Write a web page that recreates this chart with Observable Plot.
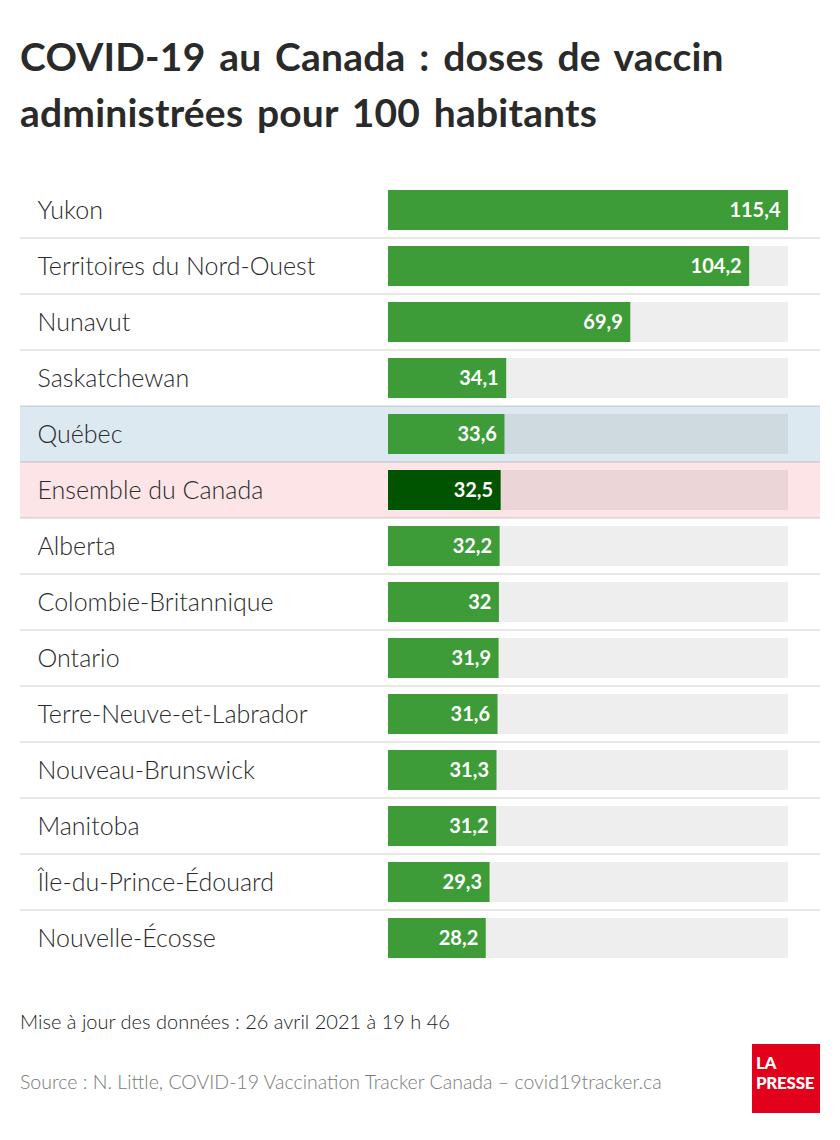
<!DOCTYPE html>
<html>
<head>
<meta charset="utf-8">
<script src="https://cdn.jsdelivr.net/npm/d3@7"></script>
<script src="https://cdn.jsdelivr.net/npm/@observablehq/plot@0.6"></script>
<style>
  body { margin: 0; background: #fff; font-family: Lato, "Open Sans", sans-serif; }
  #wrap { position: relative; width: 840px; height: 1140px; }
  #title { position: absolute; left: 20px; top: 28px; font-size: 39px; line-height: 56px; font-weight: 700; color: #2a2a2a; word-spacing: 4px; letter-spacing: 0.2px; white-space: nowrap; }
  #chart { position: absolute; left: 0; top: 182px; }
  #update { position: absolute; left: 20px; top: 1009px; font-size: 20px; font-weight: 300; color: #222; }
  #source { position: absolute; left: 20px; top: 1070px; font-size: 19.5px; font-weight: 300; color: #7a7a7a; }
  #logo { position: absolute; left: 752px; top: 1044px; width: 68px; height: 69px; background: #e2001a; color: #fff; font-weight: 900; font-size: 17px; line-height: 17px; letter-spacing: -0.3px; }
  #logo div { position: absolute; left: 4px; }
</style>
</head>
<body>
<div id="wrap">
  <div id="title">COVID-19 au Canada : doses de vaccin<br>administrées pour 100 habitants</div>
  <div id="chart"></div>
  <div id="update">Mise à jour des données : 26 avril 2021 à 19 h 46</div>
  <div id="source">Source : N. Little, COVID-19 Vaccination Tracker Canada – covid19tracker.ca</div>
  <div id="logo"><div style="top:10px">LA</div><div style="top:30px">PRESSE</div></div>
</div>
<script>
const regions = ["Yukon", "Territoires du Nord-Ouest", "Nunavut", "Saskatchewan", "Québec", "Ensemble du Canada", "Alberta", "Colombie-Britannique", "Ontario", "Terre-Neuve-et-Labrador", "Nouveau-Brunswick", "Manitoba", "Île-du-Prince-Édouard", "Nouvelle-Écosse"];
const doses = [115.4, 104.2, 69.9, 34.1, 33.6, 32.5, 32.2, 32, 31.9, 31.6, 31.3, 31.2, 29.3, 28.2];
const highlights = { "Québec": "#dde9f1", "Ensemble du Canada": "#fde5e7" };
const barColors = { "Ensemble du Canada": "#005400" };
const defaultBar = "#3d9c37";

const data = regions.map((name, i) => ({ name, value: doses[i] }));
const maxVal = d3.max(doses);
const fmt = v => String(v).replace(".", ",");

const chart = Plot.plot({
  width: 840,
  height: 784,
  marginLeft: 20,
  marginRight: 20,
  marginTop: 0,
  marginBottom: 0,
  x: { domain: [0, maxVal], range: [388, 788], axis: null },
  y: { domain: regions, padding: 0, axis: null },
  marks: [
    Plot.cell(data.filter(d => highlights[d.name]), { y: "name", fill: d => highlights[d.name] }),
    Plot.cell(data.slice(1), { y: "name", fill: "#000", fillOpacity: 0.09, insetTop: -1, insetBottom: 55 }),
    Plot.barX(data, { y: "name", x1: 0, x2: () => maxVal, fill: "#000", fillOpacity: 0.067, insetTop: 8, insetBottom: 8 }),
    Plot.barX(data, { y: "name", x: "value", fill: d => barColors[d.name] || defaultBar, insetTop: 8, insetBottom: 8 }),
    Plot.text(data, { y: "name", text: "name", frameAnchor: "left", dx: 17, textAnchor: "start", fill: "#2a2a2a", fontSize: 25, fontWeight: 300, fontFamily: "Lato" }),
    Plot.text(data, { y: "name", x: "value", text: d => fmt(d.value), textAnchor: "end", dx: -8, fill: "#fff", fontSize: 20, fontWeight: 700, fontFamily: "Lato" })
  ]
});
document.getElementById("chart").appendChild(chart);
</script>
</body>
</html>
